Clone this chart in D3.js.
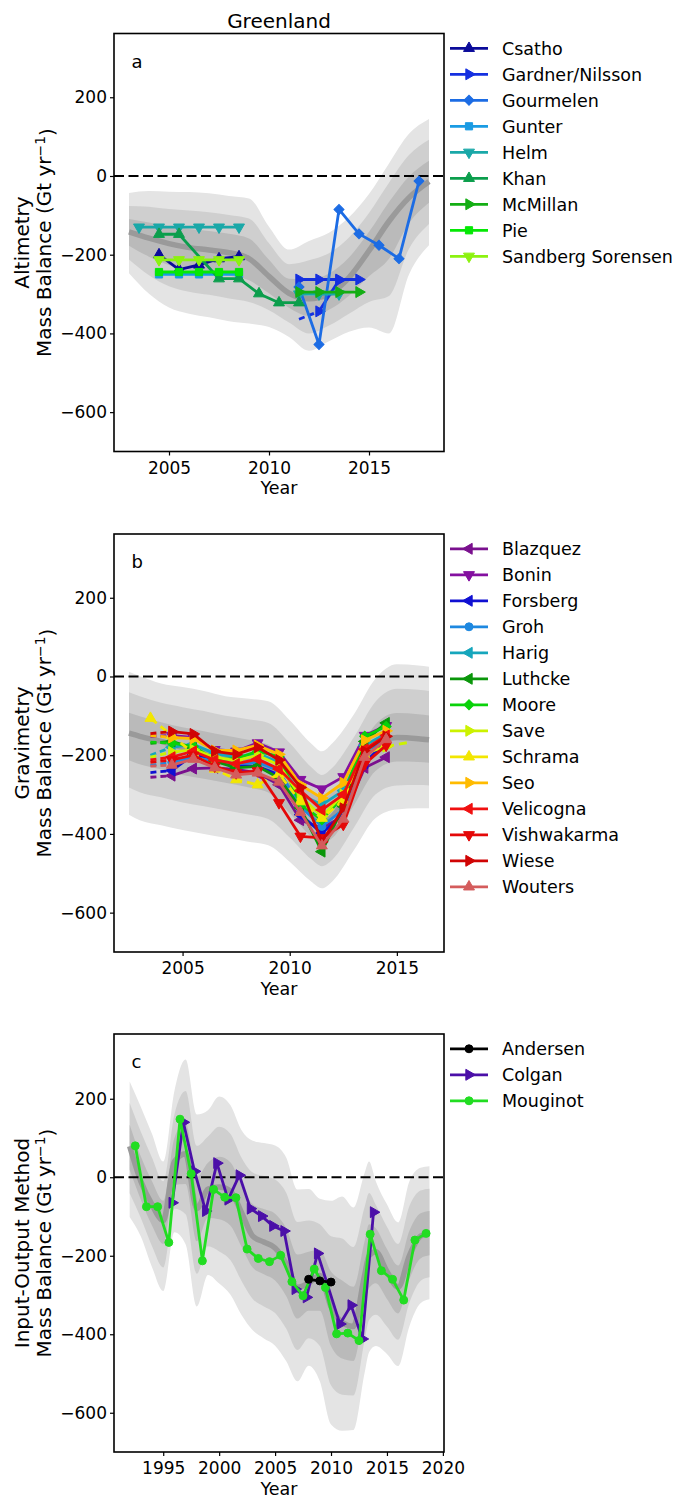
<!DOCTYPE html>
<html>
<head>
<meta charset="utf-8">
<script src="https://cdn.jsdelivr.net/npm/d3@7"></script>
<style>
  body { margin: 0; background: #fff; }
  svg text { font-family: "DejaVu Sans", sans-serif; fill: #000; }
</style>
</head>
<body>
<svg id="chart" width="678" height="1498"></svg>
<script>
// ---------- Panel a: altimetry ----------
const altBandYears = [2003, 2004, 2005, 2006, 2007, 2008, 2009, 2010, 2011, 2012, 2013, 2014, 2015, 2016, 2017, 2018];
const altMean      = [-142, -158, -172, -182, -188, -195, -210, -255, -298, -312, -300, -258, -190, -115, -55, -14];
const altErrUp     = [33, 40, 44, 47, 48, 48, 51, 42, 37, 49, 52, 51, 48, 49, 54, 53];
const altErrDown   = [35, 47, 54, 56, 57, 58, 55, 43, 37, 44, 40, 46, 65, 95, 65, 54];

const csathoYears = [2004.5, 2005.5, 2006.5, 2007.5, 2008.5];
const csathoValues = [-200, -238, -226, -210, -205];
const gardnerYears = [2011.5, 2012.5, 2013.5, 2014.5];
const gardnerValues = [-263, -263, -263, -263];
const nilssonYears = [2011.5, 2012.5, 2013.5];
const nilssonValues = [-364, -344, -265];
const gourmelenYears = [2011.5, 2012.5, 2013.5, 2014.5, 2015.5, 2016.5, 2017.5];
const gourmelenValues = [-282, -428, -85, -147, -176, -210, -13];
const gunterYears = [2004.5, 2005.5, 2006.5, 2007.5, 2008.5];
const gunterValues = [-250, -250, -250, -250, -250];
const helmYears = [2003.5, 2004.5, 2005.5, 2006.5, 2007.5, 2008.5];
const helmValues = [-130, -130, -130, -130, -130, -130];
const helmLateYears = [2011.5, 2012.5, 2013.5];
const helmLateValues = [-300, -300, -300];
const khanYears = [2004.5, 2005.5, 2007.5, 2008.5, 2009.5, 2010.5, 2011.5];
const khanValues = [-148, -148, -261, -261, -299, -322, -322];
const mcmillanYears = [2011.5, 2012.5, 2013.5, 2014.5];
const mcmillanValues = [-295, -295, -295, -295];
const pieYears = [2004.5, 2005.5, 2006.5, 2007.5, 2008.5];
const pieValues = [-244, -244, -244, -244, -244];
const sandbergYears = [2004.5, 2005.5, 2006.5, 2007.5, 2008.5];
const sandbergValues = [-213, -213, -213, -213, -213];

// ---------- Panel b: gravimetry ----------
const gravBandYears = [2002.5, 2003, 2004, 2005, 2006, 2007, 2008, 2009, 2010, 2011, 2011.5, 2012, 2013, 2014, 2015, 2016, 2016.5];
const gravMean      = [-144, -152, -165, -180, -190, -200, -212, -228, -285, -350, -370, -355, -270, -180, -155, -158, -161];
const gravErrUp     = [52, 51, 49, 51, 51, 50, 52, 55, 58, 60, 60, 62, 58, 58, 62, 62, 62];
const gravErrDown   = [69, 71, 71, 70, 70, 70, 69, 67, 62, 57, 56, 55, 57, 60, 61, 59, 58];

const gravYears = [2003.5, 2004.5, 2005.5, 2006.5, 2007.5, 2008.5, 2009.5, 2010.5, 2011.5, 2012.5, 2013.5, 2014.5];
const blazquezValues    = [-256, -252, -234, -232, -236, -245, -275, -365, -385, -355, -232, -205];
const boninValues       = [-152, -150, -155, -186, -190, -169, -192, -262, -286, -255, -150, -125];
const forsbergValues    = [-244, -239, -199, -211, -226, -228, -250, -351, -398, -350, -220, -165];
const grohValues        = [-226, -218, -205, -215, -222, -218, -240, -330, -381, -338, -203, -155];
const harigValues       = [-200, -180, -172, -196, -205, -195, -218, -300, -326, -290, -175, -145];
const luthckeValues     = [-170, -165, -182, -215, -232, -228, -258, -334, -445, -330, -165, -118];
const mooreValues       = [-167, -169, -178, -211, -209, -190, -203, -325, -364, -305, -152, -127];
const saveValues        = [-205, -192, -186, -205, -214, -200, -225, -305, -355, -300, -195, -178];
const saveTailYears     = [2014.5, 2015.5];
const saveTailValues    = [-178, -168];
const schramaValues     = [-106, -150, -195, -235, -262, -275, -248, -318, -360, -315, -200, -170];
const seoValues         = [-150, -155, -158, -188, -188, -175, -198, -275, -309, -270, -162, -138];
const velicognaValues   = [-212, -205, -190, -212, -222, -210, -235, -290, -339, -300, -185, -150];
const vishwakarmaValues = [-218, -212, -200, -228, -245, -240, -321, -406, -410, -376, -222, -175];
const wieseValues       = [-145, -140, -146, -190, -198, -180, -212, -282, -420, -335, -190, -152];
const woutersValues     = [-228, -225, -210, -232, -250, -245, -268, -345, -430, -362, -205, -160];

// ---------- Panel c: input-output method ----------
const iomBandYears = [1992, 1993, 1994, 1995, 1996, 1997, 1998, 1999, 2000, 2001, 2002, 2003, 2004, 2005,
                      2006, 2007, 2008, 2009, 2010, 2011, 2012, 2013, 2013.4, 2014, 2015, 2016, 2017, 2018, 2018.8];
const iomMean    = [79, -10, -70, -110, 40, 60, -80, -30, -25, -35, -90, -150, -165, -180,
                    -220, -280, -270, -250, -330, -370, -380, -250, -200, -190, -240, -280, -200, -150, -143];
const iomErrUp   = [55, 63, 60, 50, 60, 80, 80, 67, 77, 73, 70, 81, 84, 87,
                    90, 83, 80, 65, 90, 107, 101, 87, 80, 60, 57, 55, 63, 58, 57];
const iomErrDown = [60, 47, 53, 60, 60, 77, 83, 73, 82, 88, 87, 80, 82, 83,
                    83, 80, 70, 90, 100, 92, 88, 83, 82, 80, 70, 67, 60, 57, 56];

const andersenYears = [2008, 2009, 2010];
const andersenValues = [-260, -264, -267];
const colganYears = [1995.8, 1996.8, 1997.8, 1998.8, 1999.8, 2000.8, 2001.8, 2002.8, 2003.8, 2004.8,
                     2005.8, 2006.8, 2007.8, 2008.8, 2010.8, 2011.8, 2012.8, 2013.8];
const colganValues = [-65, 140, 15, -86, 36, -57, 5, -80, -99, -124,
                      -137, -285, -306, -194, -374, -326, -412, -89];
const mouginotYears = [1992.5, 1993.5, 1994.5, 1995.5, 1996.5, 1997.5, 1998.5, 1999.5, 2000.5, 2001.5,
                       2002.5, 2003.5, 2004.5, 2005.5, 2006.5, 2007.5, 2008.5, 2009.5, 2010.5, 2011.5,
                       2012.5, 2013.5, 2014.5, 2015.5, 2016.5, 2017.5, 2018.5];
const mouginotValues = [80, -75, -75, -166, 148, 9, -213, -31, -51, -52,
                        -183, -207, -215, -199, -266, -302, -234, -281, -399, -397,
                        -416, -145, -238, -260, -313, -160, -143];

const yTicks = [-600, -400, -200, 0, 200];

// ---------- drawing ----------
const svg = d3.select("#chart");
const LEFT = 114, RIGHT = 444;

svg.append("text").attr("x", 279).attr("y", 27.5).attr("text-anchor", "middle")
  .style("font-size", "20px").text("Greenland");

const markerDefs = {
  "^": [d3.symbolTriangle, 0, 52],
  "v": [d3.symbolTriangle, 180, 52],
  ">": [d3.symbolTriangle, 90, 52],
  "<": [d3.symbolTriangle, -90, 52],
  "s": [d3.symbolSquare, 0, 52],
  "D": [d3.symbolSquare, 45, 50],
  "o": [d3.symbolCircle, 0, 50]
};

function drawMarker(g, cx, cy, kind, color) {
  const [type, rot, size] = markerDefs[kind];
  g.append("path")
    .attr("d", d3.symbol().type(type).size(size)())
    .attr("transform", `translate(${cx},${cy}) rotate(${rot})`)
    .attr("fill", color).attr("stroke", color).attr("stroke-width", 1);
}

function makePanel(cfg) {
  const x = d3.scaleLinear().domain(cfg.xDomain).range([LEFT, RIGHT]);
  const y = d3.scaleLinear().domain(cfg.yDomain).range([cfg.bottom, cfg.top]);
  const g = svg.append("g");

  // uncertainty envelopes: mean +/- 3, 2, 1 sigma
  const idx = d3.range(cfg.bandYears.length);
  const shades = ["#e4e4e4", "#cfcfcf", "#bababa"];
  [3, 2, 1].forEach((k, i) => {
    const area = d3.area()
      .x(j => x(cfg.bandYears[j]))
      .y0(j => y(cfg.mean[j] - k * cfg.errDown[j]))
      .y1(j => y(cfg.mean[j] + k * cfg.errUp[j]))
      .curve(d3.curveMonotoneX);
    g.append("path").attr("d", area(idx)).attr("fill", shades[i]);
  });
  const meanLine = d3.line().x(j => x(cfg.bandYears[j])).y(j => y(cfg.mean[j])).curve(d3.curveMonotoneX);
  g.append("path").attr("d", meanLine(idx)).attr("fill", "none")
    .attr("stroke", "#9a9a9a").attr("stroke-width", 5.5);

  // zero reference
  g.append("line").attr("x1", LEFT).attr("x2", RIGHT).attr("y1", y(0)).attr("y2", y(0))
    .attr("stroke", "#000").attr("stroke-width", 1.8).attr("stroke-dasharray", "10,4.5");

  // series
  cfg.series.forEach(s => {
    const pts = s.years.map((yr, i) => [x(yr), y(s.values[i])]);
    const line = d3.line();
    const n = pts.length;
    if (s.dashAll) {
      g.append("path").attr("d", line(pts)).attr("fill", "none").attr("stroke", s.color)
        .attr("stroke-width", 2.8).attr("stroke-dasharray", "8,5");
    } else {
      const start = s.dashFirst ? 1 : 0;
      if (s.dashFirst) {
        g.append("path").attr("d", line(pts.slice(0, 2))).attr("fill", "none").attr("stroke", s.color)
          .attr("stroke-width", 2.8).attr("stroke-dasharray", "6,4");
      }
      g.append("path").attr("d", line(pts.slice(start))).attr("fill", "none").attr("stroke", s.color)
        .attr("stroke-width", 2.8).attr("stroke-linejoin", "round");
    }
    pts.forEach((p, i) => {
      if (s.dashFirst && i === 0) return;
      if (s.noEndMarker && i === n - 1) return;
      drawMarker(g, p[0], p[1], s.marker, s.color);
    });
  });

  // axes
  const ya = d3.axisLeft(y).tickValues(yTicks).tickSize(4).tickPadding(3).tickFormat(d3.format("d"));
  const yg = g.append("g").attr("transform", `translate(${LEFT},0)`).call(ya);
  const xa = d3.axisBottom(x).tickValues(cfg.xTicks).tickSize(4).tickPadding(6).tickFormat(d3.format("d"));
  const xg = g.append("g").attr("transform", `translate(0,${cfg.bottom})`).call(xa);
  [yg, xg].forEach(a => {
    a.select(".domain").remove();
    a.selectAll("text").style("font-size", "17px").style("font-family", "DejaVu Sans");
    a.selectAll("line").attr("stroke", "#000").attr("stroke-width", 1.2);
  });

  g.append("rect").attr("x", LEFT).attr("y", cfg.top).attr("width", RIGHT - LEFT)
    .attr("height", cfg.bottom - cfg.top).attr("fill", "none").attr("stroke", "#000").attr("stroke-width", 1.6);

  // panel letter and axis titles
  g.append("text").attr("x", 131.5).attr("y", cfg.top + 34).style("font-size", "18px").text(cfg.letter);
  g.append("text").attr("x", (LEFT + RIGHT) / 2).attr("y", cfg.bottom + 42.5).attr("text-anchor", "middle")
    .style("font-size", "17.5px").text("Year");
  const cy = (cfg.top + cfg.bottom) / 2;
  g.append("text").attr("transform", `translate(29,${cy}) rotate(-90)`).attr("text-anchor", "middle")
    .style("font-size", "20px").text(cfg.title);
  const mb = g.append("text").attr("transform", `translate(51,${cy}) rotate(-90)`).attr("text-anchor", "middle")
    .style("font-size", "20px");
  mb.append("tspan").text("Mass Balance (Gt yr");
  mb.append("tspan").attr("dy", "-0.45em").style("font-size", "14px").text("\u22121");
  mb.append("tspan").attr("dy", "0.45em").text(")");

  // legend (one entry per name, in the listed order)
  const seen = new Set();
  let row = 0;
  const legendItems = cfg.legendOrder
    ? cfg.legendOrder.map(nm => cfg.series.find(s => s.name === nm))
    : cfg.series;
  legendItems.forEach(s => {
    if (seen.has(s.name)) return;
    seen.add(s.name);
    const ly = cfg.top + 14.8 + 26 * row;
    g.append("line").attr("x1", 450).attr("x2", 488).attr("y1", ly).attr("y2", ly)
      .attr("stroke", s.color).attr("stroke-width", 2.8);
    drawMarker(g, 469, ly, s.marker, s.color);
    g.append("text").attr("x", 502).attr("y", ly).attr("dy", "0.36em").style("font-size", "17.5px").text(s.name);
    row++;
  });
}

makePanel({
  letter: "a", title: "Altimetry", top: 33.5, bottom: 451.5,
  xDomain: [2002.25, 2018.75], yDomain: [-700, 362], xTicks: [2005, 2010, 2015],
  bandYears: altBandYears, mean: altMean, errUp: altErrUp, errDown: altErrDown,
  series: [
    { name: "Csatho", color: "#0b0b9a", marker: "^", years: csathoYears, values: csathoValues },
    { name: "Gardner/Nilsson", color: "#1530e0", marker: ">", years: gardnerYears, values: gardnerValues },
    { name: "Gardner/Nilsson", color: "#1530e0", marker: ">", years: nilssonYears, values: nilssonValues, dashFirst: true },
    { name: "Gourmelen", color: "#1c6ce4", marker: "D", years: gourmelenYears, values: gourmelenValues },
    { name: "Gunter", color: "#1a9be3", marker: "s", years: gunterYears, values: gunterValues },
    { name: "Helm", color: "#1aa8a8", marker: "v", years: helmYears, values: helmValues },
    { name: "Helm", color: "#1aa8a8", marker: "v", years: helmLateYears, values: helmLateValues },
    { name: "Khan", color: "#0b9e4c", marker: "^", years: khanYears, values: khanValues },
    { name: "McMillan", color: "#14ae14", marker: ">", years: mcmillanYears, values: mcmillanValues },
    { name: "Pie", color: "#05e805", marker: "s", years: pieYears, values: pieValues },
    { name: "Sandberg Sorensen", color: "#8cf210", marker: "v", years: sandbergYears, values: sandbergValues }
  ]
});

makePanel({
  letter: "b", title: "Gravimetry", top: 534, bottom: 952,
  xDomain: [2001.8, 2017.2], yDomain: [-700, 362], xTicks: [2005, 2010, 2015],
  bandYears: gravBandYears, mean: gravMean, errUp: gravErrUp, errDown: gravErrDown,
  series: [
    { name: "Blazquez", color: "#7a108e", marker: "<", years: gravYears, values: blazquezValues, dashFirst: true },
    { name: "Bonin", color: "#8410a0", marker: "v", years: gravYears, values: boninValues, dashFirst: true },
    { name: "Forsberg", color: "#1010d2", marker: "<", years: gravYears, values: forsbergValues, dashFirst: true },
    { name: "Groh", color: "#1e88e0", marker: "o", years: gravYears, values: grohValues, dashFirst: true },
    { name: "Harig", color: "#16a6bc", marker: "<", years: gravYears, values: harigValues, dashFirst: true },
    { name: "Luthcke", color: "#0a960a", marker: "<", years: gravYears, values: luthckeValues, dashFirst: true },
    { name: "Moore", color: "#0ad20a", marker: "D", years: gravYears, values: mooreValues, dashFirst: true },
    { name: "Save", color: "#ccf200", marker: ">", years: gravYears, values: saveValues, dashFirst: true },
    { name: "Save", color: "#ccf200", marker: ">", years: saveTailYears, values: saveTailValues, dashAll: true, noEndMarker: true },
    { name: "Schrama", color: "#f2e600", marker: "^", years: gravYears, values: schramaValues, dashAll: true },
    { name: "Seo", color: "#ffbb00", marker: ">", years: gravYears, values: seoValues, dashFirst: true },
    { name: "Velicogna", color: "#f01010", marker: "<", years: gravYears, values: velicognaValues, dashFirst: true },
    { name: "Vishwakarma", color: "#e40808", marker: "v", years: gravYears, values: vishwakarmaValues, dashFirst: true },
    { name: "Wiese", color: "#d00404", marker: ">", years: gravYears, values: wieseValues, dashFirst: true },
    { name: "Wouters", color: "#d45c5c", marker: "^", years: gravYears, values: woutersValues, dashFirst: true }
  ]
});

makePanel({
  letter: "c", title: "Input-Output Method", top: 1034, bottom: 1452,
  xDomain: [1990.6, 2020.1], yDomain: [-700, 365], xTicks: [1995, 2000, 2005, 2010, 2015, 2020],
  bandYears: iomBandYears, mean: iomMean, errUp: iomErrUp, errDown: iomErrDown,
  legendOrder: ["Andersen", "Colgan", "Mouginot"],
  series: [
    { name: "Colgan", color: "#4b0fa8", marker: ">", years: colganYears, values: colganValues },
    { name: "Mouginot", color: "#22dd22", marker: "o", years: mouginotYears, values: mouginotValues },
    { name: "Andersen", color: "#000000", marker: "o", years: andersenYears, values: andersenValues }
  ]
});
</script>
</body>
</html>
